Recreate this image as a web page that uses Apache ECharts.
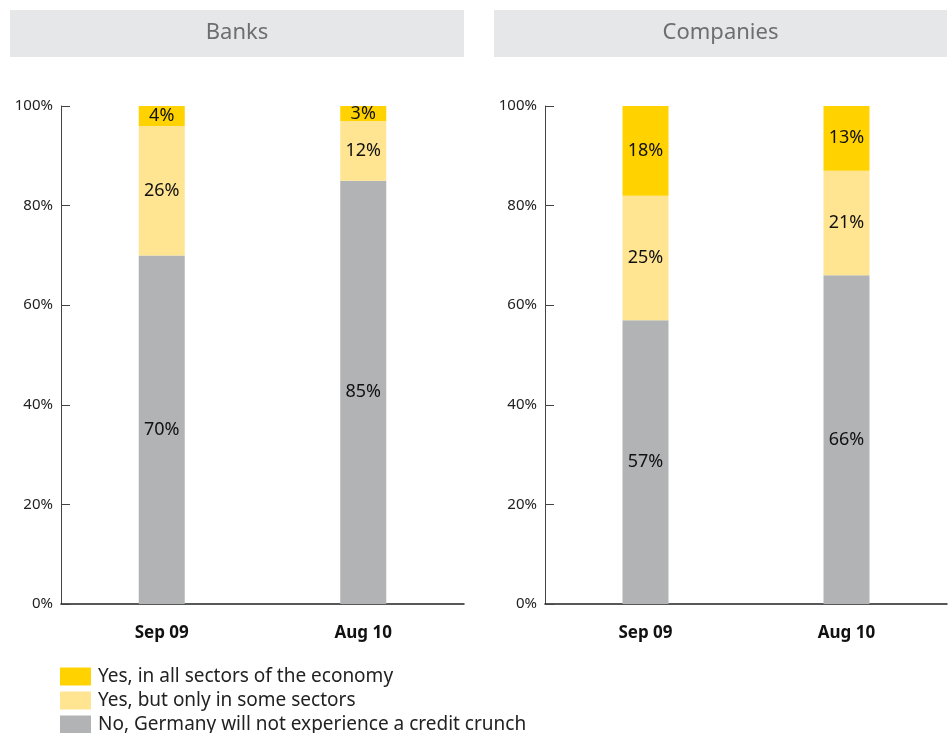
<!DOCTYPE html>
<html>
<head>
<meta charset="utf-8">
<script src="https://cdn.jsdelivr.net/npm/echarts@6/dist/echarts.min.js"></script>
<style>
  html, body { margin: 0; padding: 0; background: #fff; }
  #chart { width: 952px; height: 733px; }
</style>
</head>
<body>
<div id="chart"></div>
<script>
// Survey periods
const periods = ['Sep 09', 'Aug 10'];

// Panel titles
const panels = ['Banks', 'Companies'];

// Answer categories (stack order bottom to top)
const answers = [
  'No, Germany will not experience a credit crunch',
  'Yes, but only in some sectors',
  'Yes, in all sectors of the economy'
];

// Shares in percent, per panel, per answer
const banksNo = [70, 85];
const banksSome = [26, 12];
const banksAll = [4, 3];
const companiesNo = [57, 66];
const companiesSome = [25, 21];
const companiesAll = [18, 13];

const yTicks = [0, 20, 40, 60, 80, 100];

const colors = {
  [answers[0]]: '#b1b3b5',
  [answers[1]]: '#ffe591',
  [answers[2]]: '#ffd200'
};

const FONT = '"Noto Sans", "Open Sans", sans-serif';

const chart = echarts.init(document.getElementById('chart'));

function yAxis(gi) {
  return {
    type: 'value', gridIndex: gi, min: 0, max: 100, interval: 20,
    axisLine: { show: true, lineStyle: { color: '#444', width: 1 } },
    axisTick: { show: true, inside: true, length: 9, lineStyle: { color: '#444' } },
    splitLine: { show: false },
    axisLabel: {
      color: '#222', fontSize: 15, fontFamily: FONT, margin: 8,
      formatter: v => yTicks.includes(v) ? v + '%' : ''
    }
  };
}

function xAxis(gi) {
  return {
    type: 'category', gridIndex: gi, data: periods,
    axisLine: { show: true, lineStyle: { color: '#222', width: 1.5 } },
    axisTick: { show: false },
    axisLabel: { color: '#111', fontSize: 17, fontWeight: 'bold', fontFamily: FONT, margin: 21 }
  };
}

function seriesFor(gi, name, data) {
  return {
    type: 'bar', name: name, stack: 'p' + gi,
    xAxisIndex: gi, yAxisIndex: gi,
    data: data, barWidth: 46,
    itemStyle: { color: colors[name] },
    label: {
      show: true, position: 'inside', formatter: '{c}%',
      color: '#111', fontSize: 18, fontFamily: FONT
    }
  };
}

function header(x, w, text) {
  return [
    { type: 'rect', x: x, y: 10, shape: { width: w, height: 47 },
      style: { fill: '#e6e7e9' }, silent: true },
    { type: 'text', x: x + w / 2, y: 33,
      style: { text: text, fill: '#6d6e71', font: '22px ' + FONT,
               align: 'center', verticalAlign: 'middle' } }
  ];
}

// One legend block per answer, stacked vertically under the panels
function legendRow(name, top) {
  return {
    left: 60, top: top, padding: 0, itemWidth: 31, itemHeight: 18,
    data: [name], icon: 'rect', selectedMode: false,
    textStyle: { color: '#222', fontSize: 19, fontFamily: FONT, padding: [0, 0, 0, 2] }
  };
}

chart.setOption({
  animation: false,
  textStyle: { fontFamily: FONT },
  grid: [
    { left: 61, right: 488, top: 106, bottom: 129 },
    { left: 545, right: 5, top: 106, bottom: 129 }
  ],
  xAxis: [xAxis(0), xAxis(1)],
  yAxis: [yAxis(0), yAxis(1)],
  legend: [
    legendRow(answers[2], 667),
    legendRow(answers[1], 691),
    legendRow(answers[0], 715)
  ],
  graphic: [].concat(header(10, 454, panels[0]), header(494, 453, panels[1])),
  series: [
    seriesFor(0, answers[0], banksNo),
    seriesFor(0, answers[1], banksSome),
    seriesFor(0, answers[2], banksAll),
    seriesFor(1, answers[0], companiesNo),
    seriesFor(1, answers[1], companiesSome),
    seriesFor(1, answers[2], companiesAll)
  ]
});
</script>
</body>
</html>
